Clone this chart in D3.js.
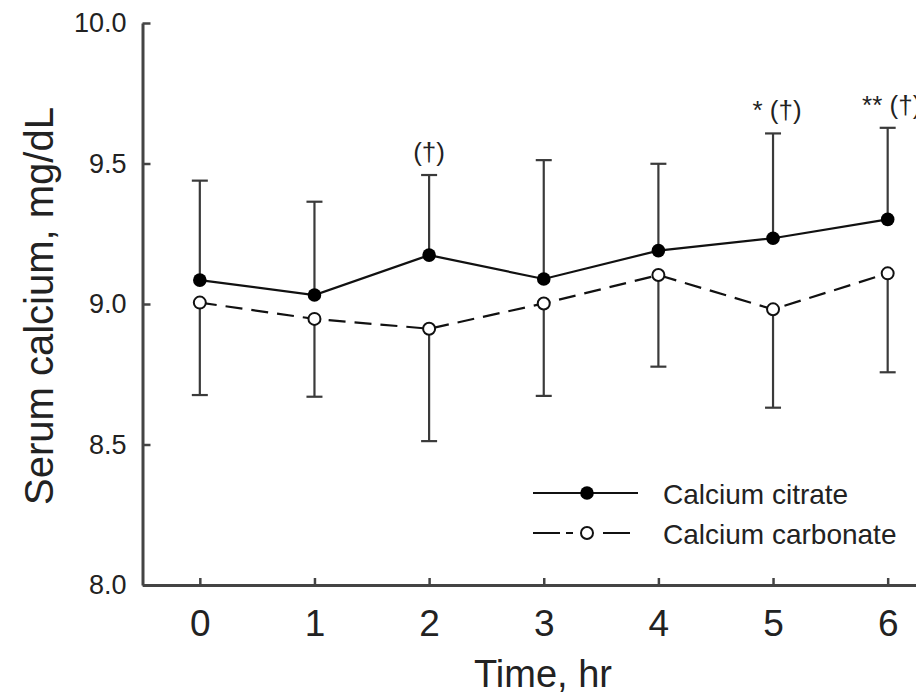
<!DOCTYPE html>
<html>
<head>
<meta charset="utf-8">
<script src="https://cdn.jsdelivr.net/npm/d3@7"></script>
<style>
  html, body { margin: 0; padding: 0; background: #fff; }
  svg { display: block; font-family: "Liberation Sans", Arial, sans-serif; }
</style>
</head>
<body>
<svg id="chart" width="916" height="696"></svg>
<script>
// Serum calcium over time after a calcium load
const hours = [0, 1, 2, 3, 4, 5, 6];
const citrateMean  = [9.085, 9.032, 9.174, 9.089, 9.190, 9.234, 9.301];
const citrateUpper = [9.439, 9.364, 9.459, 9.512, 9.499, 9.607, 9.627];
const carbonateMean  = [9.005, 8.947, 8.912, 9.002, 9.103, 8.981, 9.109];
const carbonateLower = [8.676, 8.670, 8.512, 8.673, 8.777, 8.631, 8.757];
const significance = ["", "", "(\u2020)", "", "", "* (\u2020)", "** (\u2020)"];
const yTicks = [8.0, 8.5, 9.0, 9.5, 10.0];
const xTicks = [0, 1, 2, 3, 4, 5, 6];
const seriesNames = ["Calcium citrate", "Calcium carbonate"];

const svg = d3.select("#chart");
const axisColor = "#444";
const textColor = "#222";

const x = d3.scaleLinear().domain([-0.5, 6.5]).range([142.5, 945]);
const y = d3.scaleLinear().domain([8, 10]).range([585, 23]);

// Axes with inward ticks
const yAxis = svg.append("g")
  .attr("transform", `translate(${x(-0.5)},0)`)
  .call(d3.axisLeft(y).tickValues(yTicks).tickFormat(d3.format(".1f"))
        .tickSizeInner(-8).tickSizeOuter(0).tickPadding(16));
yAxis.select(".domain").attr("stroke", axisColor).attr("stroke-width", 3);
yAxis.selectAll(".tick line").attr("stroke", axisColor).attr("stroke-width", 2.5);
yAxis.selectAll(".tick text").attr("font-size", 27).attr("fill", textColor)
  .attr("font-family", "Liberation Sans, Arial, sans-serif");

const xAxis = svg.append("g")
  .attr("transform", `translate(0,${y(8)})`)
  .call(d3.axisBottom(x).tickValues(xTicks).tickFormat(d3.format("d"))
        .tickSizeInner(-7).tickSizeOuter(0).tickPadding(25));
xAxis.select(".domain").attr("stroke", axisColor).attr("stroke-width", 3);
xAxis.selectAll(".tick line").attr("stroke", axisColor).attr("stroke-width", 2.5);
xAxis.selectAll(".tick text").attr("font-size", 37).attr("fill", textColor)
  .attr("font-family", "Liberation Sans, Arial, sans-serif");

// Axis titles
svg.append("text")
  .attr("transform", `translate(53,${(y(8) + y(10)) / 2 + 2}) rotate(-90)`)
  .attr("text-anchor", "middle")
  .attr("font-size", 40).attr("fill", textColor)
  .text("Serum calcium, mg/dL");

svg.append("text")
  .attr("x", 543).attr("y", 687)
  .attr("text-anchor", "middle")
  .attr("font-size", 38).attr("fill", textColor)
  .text("Time, hr");

// Error bars: citrate upward, carbonate downward
const capHalf = 8;
const errColor = "#3a3a3a";
function errorBars(means, ends) {
  const g = svg.append("g").attr("stroke", errColor).attr("stroke-width", 2.2);
  hours.forEach((h, i) => {
    g.append("line").attr("x1", x(h)).attr("x2", x(h))
      .attr("y1", y(means[i])).attr("y2", y(ends[i]));
    g.append("line").attr("x1", x(h) - capHalf).attr("x2", x(h) + capHalf)
      .attr("y1", y(ends[i])).attr("y2", y(ends[i]));
  });
}
errorBars(citrateMean, citrateUpper);
errorBars(carbonateMean, carbonateLower);

// Lines
const line = d3.line().x((d, i) => x(hours[i])).y(d => y(d));
svg.append("path").datum(carbonateMean)
  .attr("d", line).attr("fill", "none")
  .attr("stroke", "#111").attr("stroke-width", 2.2)
  .attr("stroke-dasharray", "17,9");
svg.append("path").datum(citrateMean)
  .attr("d", line).attr("fill", "none")
  .attr("stroke", "#111").attr("stroke-width", 2.2);

// Markers
svg.append("g").selectAll("circle").data(carbonateMean).join("circle")
  .attr("cx", (d, i) => x(hours[i])).attr("cy", d => y(d)).attr("r", 6)
  .attr("fill", "#fff").attr("stroke", "#111").attr("stroke-width", 2);
svg.append("g").selectAll("circle").data(citrateMean).join("circle")
  .attr("cx", (d, i) => x(hours[i])).attr("cy", d => y(d)).attr("r", 6.8)
  .attr("fill", "#000");

// Significance labels above the citrate error bars
svg.append("g").selectAll("text").data(significance).join("text")
  .attr("x", (d, i) => x(hours[i]) + (d.startsWith("*") ? 4 : 0))
  .attr("y", (d, i) => y(citrateUpper[i]) - 14)
  .attr("text-anchor", "middle")
  .attr("font-size", 26).attr("fill", textColor)
  .text(d => d);

// Legend
const legend = svg.append("g");
const legendRows = [
  { name: seriesNames[0], yPos: 493, end: 638, dash: null, filled: true },
  { name: seriesNames[1], yPos: 533, end: 630, dash: "27,6,7,30", filled: false }
];
legendRows.forEach(r => {
  legend.append("line").attr("x1", 533).attr("x2", r.end)
    .attr("y1", r.yPos).attr("y2", r.yPos)
    .attr("stroke", "#111").attr("stroke-width", 2.2)
    .attr("stroke-dasharray", r.dash);
  legend.append("circle").attr("cx", 587).attr("cy", r.yPos)
    .attr("r", r.filled ? 6.8 : 6)
    .attr("fill", r.filled ? "#000" : "#fff")
    .attr("stroke", "#111").attr("stroke-width", r.filled ? 0 : 2);
  legend.append("text").attr("x", 663).attr("y", r.yPos + 11)
    .attr("font-size", 28).attr("fill", textColor).text(r.name);
});
</script>
</body>
</html>
